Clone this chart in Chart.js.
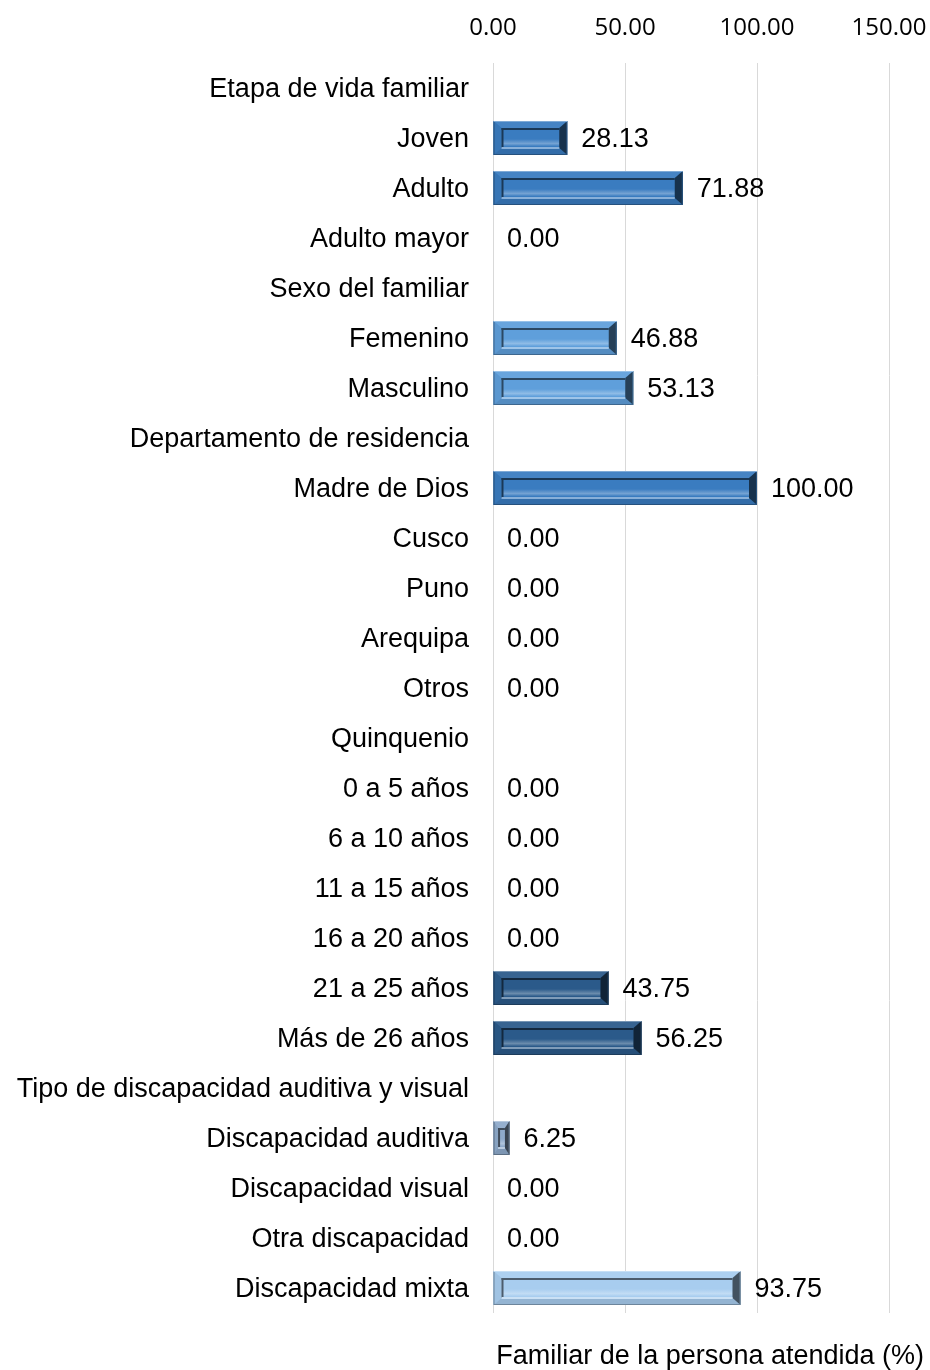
<!DOCTYPE html>
<html>
<head>
<meta charset="utf-8">
<script src="https://cdn.jsdelivr.net/npm/chart.js@4/dist/chart.umd.min.js"></script>
<style>
  html, body { margin: 0; padding: 0; background: #fff; }
  #wrap { width: 930px; height: 1370px; }
</style>
</head>
<body>
<div id="wrap"><canvas id="chart" width="930" height="1370"></canvas></div>
<script>
// Categories (group headers have no value)
const categories = [
    'Etapa de vida familiar', 'Joven', 'Adulto', 'Adulto mayor',
    'Sexo del familiar', 'Femenino', 'Masculino',
    'Departamento de residencia', 'Madre de Dios', 'Cusco', 'Puno', 'Arequipa', 'Otros',
    'Quinquenio', '0 a 5 años', '6 a 10 años', '11 a 15 años', '16 a 20 años', '21 a 25 años', 'Más de 26 años',
    'Tipo de discapacidad auditiva y visual', 'Discapacidad auditiva', 'Discapacidad visual', 'Otra discapacidad', 'Discapacidad mixta'
];
const values = [
    null, 28.13, 71.88, 0.00,
    null, 46.88, 53.13,
    null, 100.00, 0.00, 0.00, 0.00, 0.00,
    null, 0.00, 0.00, 0.00, 0.00, 43.75, 56.25,
    null, 6.25, 0.00, 0.00, 93.75
];
const tickMin = 0;
const tickMax = 150;
const tickStep = 50;
const axisTitle = 'Familiar de la persona atendida (%)';

// Face colour for each bar
const faceColors = [
    '#3a7cc0', '#3a7cc0', '#3a7cc0', '#3a7cc0',
    '#5f9fdb', '#5f9fdb', '#5f9fdb',
    '#3a7cc0', '#3a7cc0', '#3a7cc0', '#3a7cc0', '#3a7cc0', '#3a7cc0',
    '#2b5a8a', '#2b5a8a', '#2b5a8a', '#2b5a8a', '#2b5a8a', '#2b5a8a', '#2b5a8a',
    '#8eaacb', '#8eaacb', '#a8cdef', '#a8cdef', '#a8cdef'
];

function hexToRgb(hex) {
    const n = parseInt(hex.slice(1), 16);
    return [(n >> 16) & 255, (n >> 8) & 255, n & 255];
}
// amt > 0 mixes toward white, amt < 0 toward black
function shade(hex, amt) {
    const rgb = hexToRgb(hex).map(c => amt >= 0 ? c + (255 - c) * amt : c * (1 + amt));
    return 'rgb(' + rgb.map(c => Math.round(c)).join(',') + ')';
}
function poly(ctx, pts, fill) {
    ctx.beginPath();
    ctx.moveTo(pts[0][0], pts[0][1]);
    for (let i = 1; i < pts.length; i++) ctx.lineTo(pts[i][0], pts[i][1]);
    ctx.closePath();
    ctx.fillStyle = fill;
    ctx.fill();
}

// Beveled look drawn over each bar element
const bevelPlugin = {
    id: 'bevel',
    afterDatasetsDraw(chart) {
        const ctx = chart.ctx;
        const meta = chart.getDatasetMeta(0);
        ctx.save();
        meta.data.forEach((bar, i) => {
            const v = values[i];
            if (!v) return;
            const p = bar.getProps(['x', 'y', 'base', 'height'], true);
            const left = Math.min(p.base, p.x), right = Math.max(p.base, p.x);
            const top = p.y - p.height / 2, bottom = p.y + p.height / 2;
            const w = right - left, h = bottom - top;
            const ix = Math.min(8, w / 3.5), iy = Math.min(7, h / 4);
            const c = faceColors[i];
            const il = left + ix, ir = right - ix, it = top + iy, ib = bottom - iy;

            // inner face with a light streak near the bottom
            const g = ctx.createLinearGradient(0, it, 0, ib);
            g.addColorStop(0, c);
            g.addColorStop(0.55, c);
            g.addColorStop(0.78, shade(c, 0.3));
            g.addColorStop(0.92, c);
            g.addColorStop(1, c);
            ctx.fillStyle = g;
            ctx.fillRect(il, it, ir - il, ib - it);

            // bevel bands
            poly(ctx, [[left, top], [right, top], [ir, it], [il, it]], shade(c, 0.06));
            poly(ctx, [[left, top], [il, it], [il, ib], [left, bottom]], shade(c, -0.05));
            poly(ctx, [[left, bottom], [right, bottom], [ir, ib], [il, ib]], shade(c, -0.12));
            poly(ctx, [[right, top], [ir, it], [ir, ib], [right, bottom]], shade(c, -0.6));

            // inner shadow along top and left edges, highlight along bottom
            ctx.fillStyle = shade(c, -0.55);
            ctx.fillRect(il, it, ir - il, 2);
            ctx.fillRect(il, it, 2, ib - it);
            ctx.fillStyle = shade(c, 0.4);
            ctx.fillRect(il, ib - 1, ir - il, 2);

            // thin light rim on top, dark rim elsewhere
            ctx.strokeStyle = shade(c, -0.35);
            ctx.lineWidth = 1;
            ctx.strokeRect(left + 0.5, top + 0.5, w - 1, h - 1);
            ctx.strokeStyle = shade(c, 0.35);
            ctx.beginPath();
            ctx.moveTo(left, top + 0.5);
            ctx.lineTo(right, top + 0.5);
            ctx.stroke();
        });
        ctx.restore();
    }
};

// Value labels right of each bar
const valueLabels = {
    id: 'valueLabels',
    afterDatasetsDraw(chart) {
        const ctx = chart.ctx;
        const meta = chart.getDatasetMeta(0);
        ctx.save();
        ctx.font = '27px "Liberation Sans", Arial, sans-serif';
        ctx.fillStyle = '#000';
        ctx.textAlign = 'left';
        ctx.textBaseline = 'middle';
        meta.data.forEach((bar, i) => {
            const v = values[i];
            if (v === null) return;
            const p = bar.getProps(['x', 'y', 'base'], true);
            ctx.fillText(v.toFixed(2), Math.max(p.x, p.base) + 14, p.y + 2);
        });
        ctx.restore();
    }
};

new Chart(document.getElementById('chart'), {
    type: 'bar',
    data: {
        labels: categories,
        datasets: [{
            data: values,
            backgroundColor: faceColors,
            borderWidth: 0,
            categoryPercentage: 0.68,
            barPercentage: 1
        }]
    },
    options: {
        indexAxis: 'y',
        responsive: false,
        animation: false,
        devicePixelRatio: 1,
        layout: { padding: { left: 0, right: 6, top: 0, bottom: 0 } },
        plugins: {
            legend: { display: false },
            tooltip: { enabled: false },
            title: {
                display: true,
                text: axisTitle,
                position: 'bottom',
                align: 'end',
                color: '#000',
                font: { family: '"Liberation Sans", Arial, sans-serif', size: 27, weight: 'normal', lineHeight: 1.0 },
                padding: { top: 30, bottom: 0 }
            }
        },
        scales: {
            x: {
                position: 'top',
                min: tickMin,
                max: tickMax,
                ticks: {
                    stepSize: tickStep,
                    padding: 20,
                    color: '#000',
                    font: { family: '"Open Sans", sans-serif', size: 24 },
                    callback: value => value.toFixed(2)
                },
                grid: { color: '#d9d9d9', lineWidth: 1, drawTicks: false },
                border: { display: false },
                afterFit: scale => { scale.height = 63; scale.paddingRight = 41; }
            },
            y: {
                ticks: {
                    padding: 24,
                    labelOffset: 2,
                    color: '#000',
                    autoSkip: false,
                    font: { family: '"Liberation Sans", Arial, sans-serif', size: 27 }
                },
                grid: { display: false, drawTicks: false },
                border: { display: false },
                afterFit: scale => { scale.width = 493; }
            }
        }
    },
    plugins: [bevelPlugin, valueLabels]
});
</script>
</body>
</html>
